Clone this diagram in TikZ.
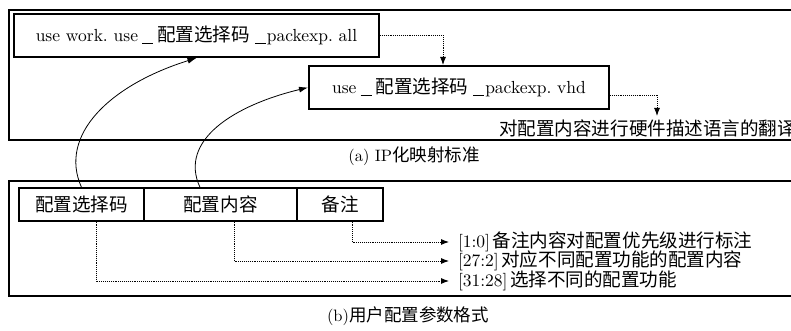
\documentclass[tikz,border=0pt]{standalone}
\usepackage{fontspec}
\setmainfont{lmroman10-regular}[Extension=.otf]
\newfontfamily\cjk{Noto Sans CJK SC}[Scale=1.06]
\newcommand{\zh}[1]{{\cjk #1}}
\newcommand{\usl}{\kern4pt\rule[-2.5pt]{11pt}{0.9pt}\kern4pt}
\newcommand{\usr}{\kern5pt\rule[-2.5pt]{11pt}{0.9pt}\kern1pt}
\newcommand{\gap}{\kern2.5pt}
\usetikzlibrary{arrows.meta}
\begin{document}
\begin{tikzpicture}[x=1pt,y=-1pt,
  font=\fontsize{17.5}{20}\selectfont\frenchspacing,
  frame/.style={line width=1.3pt},
  codebox/.style={draw, line width=2pt, minimum height=43pt, inner sep=0pt},
  cell/.style={draw, line width=1.3pt, minimum height=33pt, inner sep=0pt},
  dotarrow/.style={densely dotted, line width=0.9pt, -{Latex[length=8pt,width=6pt]}},
  curvearrow/.style={line width=0.8pt, -{Latex[length=9pt,width=6pt]}},
  note/.style={anchor=west, inner xsep=9pt, inner ysep=0pt, outer sep=0pt},
  caption/.style={font=\fontsize{16.5}{19}\selectfont, inner sep=0pt}]
\useasboundingbox (0,0) rectangle (791,331);
\clip (0,0) rectangle (791,331);
% outer frames
\draw[frame] (800,10) -- (9,10) -- (9,140) -- (800,140);
\draw[frame] (800,181) -- (9,181) -- (9,296) -- (800,296);
% top part
\node[codebox, minimum width=365pt] (box1) at (196.5,35.5) {use work. use\usl\zh{配置选择码}\usr packexp. all};
\node[codebox, minimum width=300pt] (box2) at (459,87.5) {use\usl\zh{配置选择码}\usr packexp. vhd};
\node[anchor=west, inner sep=0pt] (trans) at (499,128) {\zh{对配置内容进行硬件描述语言的翻译}};
\coordinate (k1) at (443,65);
\coordinate (k2) at (657,116);
\draw[dotarrow] (box1.east) -| (k1);
\draw[dotarrow] ([yshift=-7.5pt]box2.east) -| (k2);
\node[caption] (capA) at (414,156) {(a) IP\zh{化映射标准}};
% bottom part
\node[cell, minimum width=125pt] (c1) at (81.5,204.5) {\zh{配置选择码}};
\node[cell, minimum width=153pt] (c2) at (220.5,204.5) {\zh{配置内容}};
\node[cell, minimum width=86pt] (c3) at (340,204.5) {\zh{备注}};
\node[note] (n1) at (449,242) {[1:0]\gap\zh{备注内容对配置优先级进行标注}};
\node[note] (n2) at (449,261) {[27:2]\gap\zh{对应不同配置功能的配置内容}};
\node[note] (n3) at (449,281) {[31:28]\gap\zh{选择不同的配置功能}};
\draw[dotarrow] ([xshift=12pt]c3.south) |- (n1.west);
\draw[dotarrow] ([xshift=13.5pt]c2.south) |- (n2.west);
\draw[dotarrow] ([xshift=14.5pt]c1.south) |- (n3.west);
\node[caption] (capB) at (408,316) {(b)\zh{用户配置参数格式}};
% curved arrows
\draw[curvearrow] (c1.north) .. controls (58,135) and (110,85) .. (box1.south);
\draw[curvearrow] ([xshift=-20.5pt]c2.north) .. controls (178,140) and (235,105) .. (box2.west);
\end{tikzpicture}
\end{document}
